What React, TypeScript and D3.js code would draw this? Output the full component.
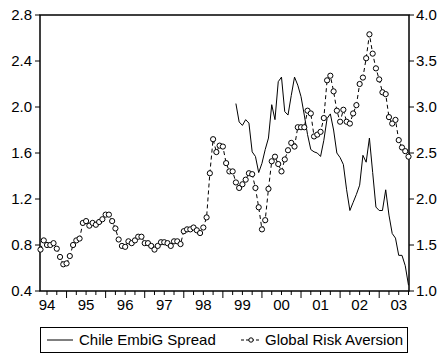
import React from "react";
import * as d3 from "d3";

// Monthly observations, May 1994 – Oct 2003
const START_YEAR = 1994;
const START_MONTH = 5; // May

// Global Risk Aversion index (right axis)
const riskAversion: number[] = [
  1.45, 1.55, 1.50, 1.50, 1.52, 1.46, 1.37, 1.29, 1.30, 1.38,
  1.50, 1.55, 1.57, 1.74, 1.76, 1.71, 1.74, 1.72, 1.75, 1.78,
  1.83, 1.83, 1.76, 1.68, 1.56, 1.49, 1.48, 1.54, 1.52, 1.55,
  1.59, 1.59, 1.52, 1.52, 1.49, 1.45, 1.49, 1.53, 1.53, 1.52,
  1.49, 1.54, 1.54, 1.51, 1.65, 1.67, 1.67, 1.69, 1.66, 1.63,
  1.69, 1.80, 2.28, 2.65, 2.51, 2.58, 2.57, 2.39, 2.30, 2.30,
  2.18, 2.12, 2.16, 2.21, 2.28, 2.27, 2.12, 1.91, 1.67, 1.77,
  2.11, 2.41, 2.46, 2.38, 2.30, 2.43, 2.53, 2.61, 2.57, 2.78,
  2.78, 2.78, 2.96, 2.93, 2.68, 2.70, 2.73, 2.88, 3.29, 3.34,
  3.17, 2.96, 2.84, 2.97, 2.84, 2.82, 2.93, 3.02, 3.25, 3.32,
  3.53, 3.79, 3.58, 3.42, 3.30, 3.16, 3.14, 2.89, 2.82, 2.86,
  2.64, 2.56, 2.52, 2.46,
];

// Chile EMBI Global spread (left axis), available from May 1999
const SPREAD_START_INDEX = 60;
const embiSpread: number[] = [
  2.03, 1.87, 1.84, 1.89, 1.86, 1.61, 1.57, 1.43, 1.51, 1.63,
  1.73, 2.02, 1.89, 2.22, 2.26, 1.96, 1.93, 2.10, 2.26, 2.19,
  2.09, 1.93, 1.76, 1.63, 1.61, 1.60, 1.57, 1.71, 1.90, 1.94,
  1.80, 1.60, 1.56, 1.50, 1.28, 1.10, 1.17, 1.24, 1.32, 1.58,
  1.52, 1.73, 1.43, 1.13, 1.10, 1.10, 1.28, 1.06, 0.90, 0.86,
  0.71, 0.71, 0.62, 0.45,
];

const leftTicks = [0.4, 0.8, 1.2, 1.6, 2.0, 2.4, 2.8];
const rightTicks = [1.0, 1.5, 2.0, 2.5, 3.0, 3.5, 4.0];
const yearLabels = ["94", "95", "96", "97", "98", "99", "00", "01", "02", "03"];

const W = 444;
const H = 361;
const plot = { left: 40, right: 409, top: 15, bottom: 291 };
const FONT = "'Liberation Sans', Arial, Helvetica, sans-serif";
const FS = 15;

export default function App() {
  const n = riskAversion.length;
  const x = d3.scaleLinear().domain([0, n - 1]).range([plot.left + 0.5, plot.right - 0.5]);
  const yL = d3.scaleLinear().domain([0.4, 2.8]).range([plot.bottom, plot.top]);
  const yR = d3.scaleLinear().domain([1.0, 4.0]).range([plot.bottom, plot.top]);

  const riskPts = riskAversion.map((v, i) => [i, v] as [number, number]);
  const spreadPts = embiSpread.map((v, i) => [i + SPREAD_START_INDEX, v] as [number, number]);

  const riskLine = d3.line<[number, number]>().x((d) => x(d[0])).y((d) => yR(d[1]))(riskPts) || "";
  const spreadLine = d3.line<[number, number]>().x((d) => x(d[0])).y((d) => yL(d[1]))(spreadPts) || "";

  // month-of-year for each observation (1..12)
  const monthOf = (i: number) => ((START_MONTH - 1 + i) % 12) + 1;
  const quarterTicks = d3.range(n).filter((i) => [1, 4, 7, 10].includes(monthOf(i)));
  const labelIdx = d3.range(n).filter((i) => monthOf(i) === 7);

  return (
    <svg
      width={W}
      height={H}
      style={{ position: "absolute", left: 0, top: 0, background: "#fff" }}
      fontFamily={FONT}
      fontSize={FS}
    >
      <rect x={0} y={0} width={W} height={H} fill="#fff" />

      {/* frame */}
      <rect
        x={plot.left}
        y={plot.top}
        width={plot.right - plot.left}
        height={plot.bottom - plot.top}
        fill="none"
        stroke="#000"
        strokeWidth={1.5}
      />

      {/* left axis */}
      {leftTicks.map((t) => (
        <g key={"l" + t}>
          <line x1={plot.left - 5} x2={plot.left} y1={yL(t)} y2={yL(t)} stroke="#000" strokeWidth={1} />
          <text x={plot.left - 8} y={yL(t)} dy="0.36em" textAnchor="end" fill="#000">
            {t.toFixed(1)}
          </text>
        </g>
      ))}

      {/* right axis */}
      {rightTicks.map((t) => (
        <g key={"r" + t}>
          <line x1={plot.right} x2={plot.right + 5} y1={yR(t)} y2={yR(t)} stroke="#000" strokeWidth={1} />
          <text x={plot.right + 7} y={yR(t)} dy="0.36em" textAnchor="start" fill="#000">
            {t.toFixed(1)}
          </text>
        </g>
      ))}

      {/* bottom axis ticks */}
      {quarterTicks.map((i) => (
        <line
          key={"q" + i}
          x1={x(i)}
          x2={x(i)}
          y1={plot.bottom}
          y2={plot.bottom + (monthOf(i) === 1 ? 7 : 4)}
          stroke="#000"
          strokeWidth={1}
        />
      ))}
      {labelIdx.map((i, k) => (
        <text key={"y" + i} x={x(i)} y={plot.bottom + 19} textAnchor="middle" fill="#000">
          {yearLabels[k]}
        </text>
      ))}

      {/* Chile EMBI spread */}
      <path d={spreadLine} fill="none" stroke="#000" strokeWidth={1} />

      {/* Global risk aversion */}
      <path d={riskLine} fill="none" stroke="#000" strokeWidth={1} strokeDasharray="4,3" />
      {riskPts.map((d) => (
        <circle key={"c" + d[0]} cx={x(d[0])} cy={yR(d[1])} r={2.6} fill="#fff" stroke="#000" strokeWidth={1} />
      ))}

      {/* legend */}
      <g>
        <rect x={40.5} y={327.5} width={367} height={25} fill="#fff" stroke="#000" strokeWidth={1} />
        <line x1={47} x2={73} y1={340} y2={340} stroke="#000" strokeWidth={1} />
        <text x={79} y={345} fill="#000">Chile EmbiG Spread</text>
        <line x1={241} x2={261} y1={340} y2={340} stroke="#000" strokeWidth={1} strokeDasharray="3,2" />
        <circle cx={251} cy={340} r={2.2} fill="#fff" stroke="#000" strokeWidth={1} />
        <text x={265} y={345} fill="#000">Global Risk Aversion</text>
      </g>
    </svg>
  );
}
